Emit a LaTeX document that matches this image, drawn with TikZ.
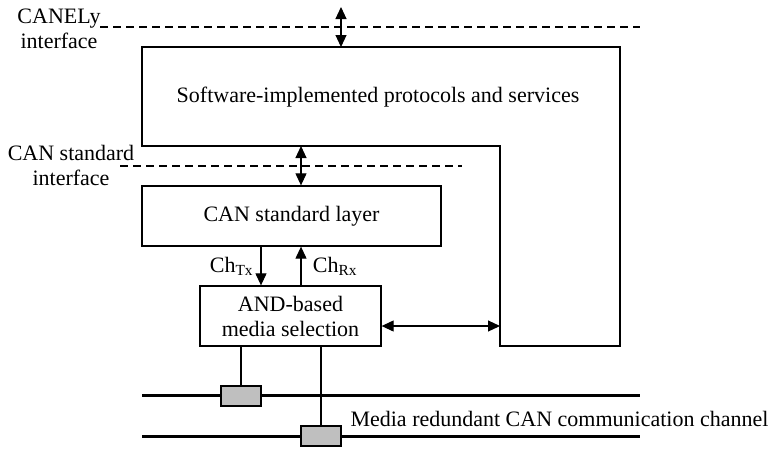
\documentclass[tikz,border=0pt]{standalone}
\usepackage{fontspec}
\setmainfont{Liberation Serif}
\usetikzlibrary{positioning,arrows.meta}

\begin{document}
\begin{tikzpicture}[x=1pt, y=-1pt, font=\fontsize{22}{25}\selectfont,
    line width=1.1pt, >={Triangle[length=12pt,width=11pt]},
    blok/.style={draw, line width=1.3pt, inner sep=0pt, align=center},
    tap/.style={draw, line width=1.3pt, fill=gray!50, minimum width=40pt, minimum height=20pt, inner sep=0pt},
    bus/.style={line width=3pt},
    iface/.style={dashed, dash pattern=on 8pt off 5pt, line width=1.2pt}]
  \useasboundingbox (0,0) rectangle (779,448);
  % Software layer (L shape)
  \coordinate (swNW) at (142,47);
  \coordinate (swNE) at (620,47);
  \coordinate (swSE) at (620,346);
  \coordinate (swIn) at (500,346);
  \coordinate (swKnee) at (500,146);
  \coordinate (swSW) at (142,146);
  \draw[line width=1.3pt] (swNW) -- (swNE) -- (swSE) -- (swIn) -- (swKnee) -- (swSW) -- cycle;
  \node (swtext) at (378,97) {Software-implemented protocols and services};
  % Interfaces
  \node[align=center] (canelylbl) at (59,29) {CANELy\\interface};
  \node[align=center] (canstdlbl) at (71,165) {CAN standard\\interface};
  \draw[iface] (100,27) -- (640,27);
  \draw[iface] (120,166) -- (462,166);
  % Bus lines
  \draw[bus] (142,395) -- (640,395);
  \draw[bus] (142,436) -- (640,436);
  % Blocks
  \node[blok, minimum width=299pt, minimum height=60pt] (canlayer) at (291.5,216) {CAN standard layer};
  \node[blok, minimum width=181pt, minimum height=60pt] (andsel) at (290.5,316) {AND-based\\media selection};
  \node[tap] (tapA) at (241,396) {};
  \node[tap] (tapB) at (321,436) {};
  \node[anchor=west, inner sep=0pt] (chanlbl) at (350,419) {Media redundant CAN communication channel};
  % Connectors
  \coordinate (canelytop) at (341,7);
  \draw[<->] (canelytop) -- (canelytop |- swNW);
  \draw[<->] ([xshift=9.5pt]canlayer.north) -- ([xshift=9.5pt]canlayer.north |- swSW);
  \draw[->] ([xshift=-30.5pt]canlayer.south) -- ([xshift=-30.5pt]canlayer.south |- andsel.north)
    node[midway,left,xshift=-4pt] {Ch\textsubscript{Tx}};
  \draw[<-] ([xshift=9.5pt]canlayer.south) -- ([xshift=9.5pt]canlayer.south |- andsel.north)
    node[midway,right,xshift=8pt] {Ch\textsubscript{Rx}};
  \draw[<->] ([yshift=-10pt]andsel.east) -- ([yshift=-10pt]andsel.east -| swIn);
  \draw (andsel.south -| tapA) -- (tapA.north);
  \draw (andsel.south -| tapB) -- (tapB.north);
\end{tikzpicture}
\end{document}
